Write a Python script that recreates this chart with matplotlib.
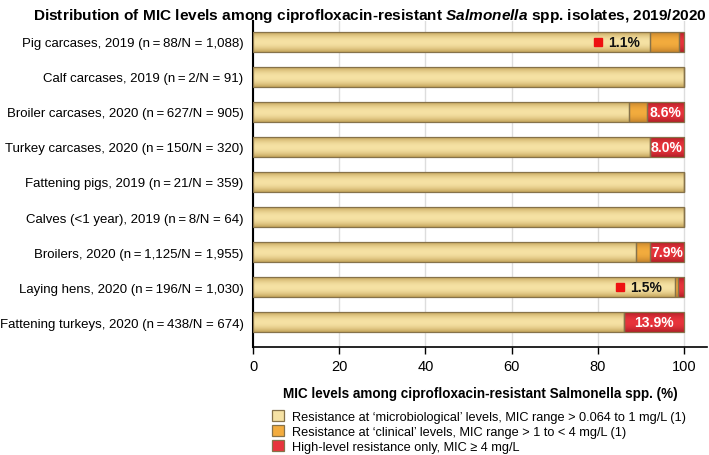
"""
Stacked bar chart: MIC levels among ciprofloxacin-resistant Salmonella spp.
Saves out.png.
"""

import matplotlib.pyplot as plt
from matplotlib.colors import to_rgb
from matplotlib.patches import Patch
import numpy as np

plt.rcParams["font.family"] = ["Liberation Sans", "DejaVu Sans"]
plt.rcParams["mathtext.fontset"] = "custom"
plt.rcParams["mathtext.it"] = "Liberation Sans:italic:bold"
plt.rcParams["mathtext.rm"] = "Liberation Sans:bold"

categories = [
    "Pig carcases, 2019 (n\u2009=\u200988/N = 1,088)",
    "Calf carcases, 2019 (n\u2009=\u20092/N = 91)",
    "Broiler carcases, 2020 (n\u2009=\u2009627/N = 905)",
    "Turkey carcases, 2020 (n\u2009=\u2009150/N = 320)",
    "Fattening pigs, 2019 (n\u2009=\u200921/N = 359)",
    "Calves (<1 year), 2019 (n\u2009=\u20098/N = 64)",
    "Broilers, 2020 (n\u2009=\u20091,125/N = 1,955)",
    "Laying hens, 2020 (n\u2009=\u2009196/N = 1,030)",
    "Fattening turkeys, 2020 (n\u2009=\u2009438/N = 674)",
]

micro = [92.0, 100.0, 87.2, 92.0, 100.0, 100.0, 88.9, 97.9, 86.0]
clinical = [6.9, 0.0, 4.2, 0.0, 0.0, 0.0, 3.2, 0.6, 0.1]
high = [1.1, 0.0, 8.6, 8.0, 0.0, 0.0, 7.9, 1.5, 13.9]

# labels drawn inside the red segment (white) or outside with a marker (black)
inside_labels = {2: "8.6%", 3: "8.0%", 6: "7.9%", 8: "13.9%"}
outside_labels = {0: ("1.1%", 80.0), 7: ("1.5%", 85.2)}

legend_labels = [
    "Resistance at \u2018microbiological\u2019 levels, MIC range > 0.064 to 1 mg/L (1)",
    "Resistance at \u2018clinical\u2019 levels, MIC range > 1 to < 4 mg/L (1)",
    "High-level resistance only, MIC \u2265 4 mg/L",
]

COLORS = ["#f6e2a4", "#f3ac3e", "#e8343c"]
DARK = ["#c4a45a", "#c4822a", "#b01e26"]
EDGE = "#86724a"


def shade(ax, patch, light, dark) -> None:
    """Overlay a vertical gradient (dark edges, light middle) on a bar."""
    w = patch.get_width()
    if w <= 0:
        return
    x0, y0 = patch.get_x(), patch.get_y()
    hh = patch.get_height()
    t = np.linspace(0, 1, 64)
    k = np.abs(2 * t - 1) ** 2
    lc, dc = np.array(to_rgb(light)), np.array(to_rgb(dark))
    img = (lc[None, :] * (1 - k[:, None]) + dc[None, :] * k[:, None])
    img = img[:, None, :]
    ax.imshow(img, extent=(x0, x0 + w, y0 + hh, y0), aspect="auto",
              interpolation="bilinear", zorder=3.1)


def main() -> None:
    fig = plt.figure(figsize=(7.09, 4.56), dpi=100)
    ax = fig.add_axes([0.357, 0.237, 0.640, 0.715])

    y = np.arange(len(categories))
    micro_a = np.array(micro)
    clin_a = np.array(clinical)
    high_a = np.array(high)

    h = 0.57
    lefts = [np.zeros_like(micro_a), micro_a, micro_a + clin_a]
    widths = [micro_a, clin_a, high_a]
    for j in range(3):
        cont = ax.barh(y, widths[j], left=lefts[j], height=h,
                       color=COLORS[j], edgecolor="none", zorder=3)
        for p in cont.patches:
            shade(ax, p, COLORS[j], DARK[j])
        ax.barh(y, widths[j], left=lefts[j], height=h, facecolor="none",
                edgecolor=EDGE, linewidth=0.9, zorder=3.3)

    for i, txt in inside_labels.items():
        xc = micro_a[i] + clin_a[i] + high_a[i] / 2
        ax.text(xc, y[i], txt, color="white", fontsize=10,
                fontweight="bold", ha="center", va="center", zorder=4)

    for i, (txt, xm) in outside_labels.items():
        ax.plot(xm, y[i], marker="s", color="#ee1111", markersize=6,
                linestyle="none", zorder=4)
        ax.text(xm + 2.4, y[i], txt, color="#111111", fontsize=10,
                fontweight="bold", ha="left", va="center", zorder=4)

    ax.set_xlim(0, 105.3)
    ax.set_ylim(8.71, -0.6)
    ax.set_yticks(y)
    ax.set_yticklabels(categories, fontsize=9.5)
    ax.tick_params(axis="y", length=0, pad=7)
    ax.set_xticks([0, 20, 40, 60, 80, 100])
    ax.tick_params(axis="x", length=5, width=1, labelsize=10.5,
                   direction="out", pad=4)

    ax.grid(axis="x", color="#dddddd", linewidth=1, zorder=0)
    ax.set_axisbelow(True)
    for side in ("top", "right"):
        ax.spines[side].set_visible(False)
    ax.spines["left"].set_linewidth(1.5)
    ax.spines["bottom"].set_linewidth(1.2)

    ax.set_xlabel("MIC levels among ciprofloxacin-resistant Salmonella spp. (%)",
                  fontsize=9.75, fontweight="bold", labelpad=9)

    fig.text(0.522, 0.985,
             r"Distribution of MIC levels among ciprofloxacin-resistant "
             r"$\mathit{Salmonella}$ spp. isolates, 2019/2020",
             ha="center", va="top", fontsize=11.1, fontweight="bold")

    handles = [Patch(facecolor=COLORS[j], edgecolor=EDGE, linewidth=0.9)
               for j in range(3)]
    fig.legend(handles, legend_labels, loc="upper left",
               bbox_to_anchor=(0.383, 0.099), frameon=False, fontsize=9.2,
               handlelength=0.95, handleheight=0.95, handletextpad=0.65,
               labelspacing=0.18, borderaxespad=0, borderpad=0)

    fig.savefig("out.png", dpi=100)
    plt.close(fig)


if __name__ == "__main__":
    main()
